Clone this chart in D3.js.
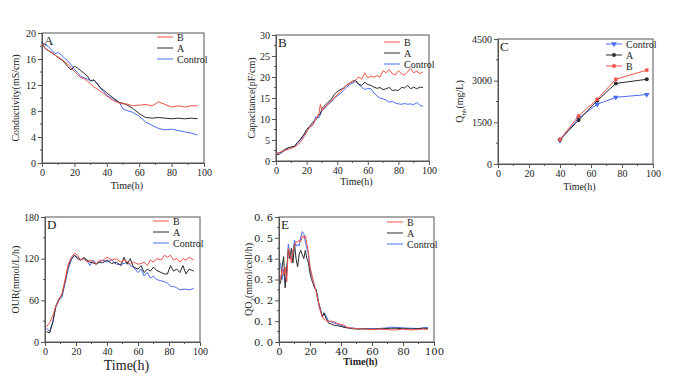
<!DOCTYPE html>
<html>
<head>
<meta charset="utf-8">
<script src="https://cdn.jsdelivr.net/npm/d3@7"></script>
<style>
  body { margin: 0; background: #fff; }
  svg text { font-family: "Liberation Serif", "DejaVu Serif", serif; fill: #222; }
</style>
</head>
<body>
<div id="graphContainer"></div>
<script>
// ---- data ----
const seriesNames = ["B", "A", "Control"];
const legendOrderC = ["Control", "A", "B"];

// A: conductivity (mS/cm)
const condTime    = [0, 2, 4, 6, 8, 10, 12, 14, 16, 18, 20, 22, 24, 26, 28, 30, 32, 34, 36, 38, 40, 44, 48, 50, 52, 56, 60, 64, 68, 72, 76, 80, 84, 88, 92, 96];
const condControl = [18.6, 18.2, 17.9, 17.4, 16.8, 17.0, 16.6, 16.1, 15.7, 15.1, 14.4, 13.9, 13.3, 13.1, 12.9, 12.7, 12.7, 12.3, 11.5, 11.0, 10.4, 9.8, 9.2, 8.3, 8.1, 7.8, 7.2, 6.3, 5.8, 5.3, 5.1, 5.2, 5.0, 4.8, 4.6, 4.3];
const condA       = [18.6, 17.6, 17.3, 17.0, 16.6, 16.2, 15.9, 15.4, 14.8, 14.3, 14.9, 14.6, 14.2, 13.8, 13.4, 12.6, 12.8, 12.2, 11.6, 11.2, 10.8, 10.0, 9.3, 9.2, 9.0, 8.4, 7.6, 7.0, 6.9, 7.0, 6.9, 6.8, 6.9, 6.8, 6.9, 6.8];
const condB       = [18.3, 17.6, 17.3, 16.9, 16.6, 16.3, 16.0, 15.6, 15.2, 14.6, 14.1, 13.6, 13.1, 13.0, 12.6, 12.2, 11.7, 11.4, 11.0, 10.7, 10.3, 9.6, 9.2, 9.1, 9.1, 8.8, 8.9, 9.0, 8.8, 9.4, 9.0, 8.6, 8.8, 8.6, 8.8, 8.8];

// B: capacitance (pF/cm)
const capTime    = [0, 2, 4, 6, 8, 10, 12, 14, 16, 18, 20, 22, 24, 26, 28, 29, 30, 32, 34, 36, 38, 40, 42, 44, 46, 48, 50, 52, 54, 56, 58, 60, 62, 64, 66, 68, 70, 72, 74, 76, 78, 80, 82, 84, 86, 88, 90, 92, 94, 96];
const capControl = [1.8, 1.9, 2.0, 2.6, 3.2, 3.0, 3.5, 4.2, 5.0, 6.0, 7.0, 8.0, 8.6, 10.5, 10.2, 11.0, 12.0, 12.6, 13.5, 14.0, 15.0, 15.5, 16.0, 16.8, 17.5, 18.2, 18.5, 19.0, 18.2, 17.6, 17.0, 17.3, 17.2, 16.2, 15.5, 15.0, 14.8, 14.5, 14.0, 14.2, 13.8, 13.6, 13.5, 13.7, 13.5, 13.6, 13.4, 13.9, 13.3, 13.0];
const capA       = [1.7, 1.5, 2.3, 2.8, 3.1, 3.4, 3.5, 4.4, 5.2, 6.2, 7.5, 8.3, 9.2, 9.8, 11.0, 11.2, 12.5, 13.2, 14.0, 14.6, 15.8, 16.5, 17.0, 17.3, 18.0, 18.5, 19.0, 19.2, 18.3, 18.0, 18.8, 18.2, 18.0, 17.6, 17.3, 17.5, 17.0, 17.2, 17.5, 16.8, 16.9, 16.8, 17.5, 17.4, 18.0, 17.2, 17.6, 17.2, 17.6, 17.5];
const capB       = [1.8, 2.0, 2.3, 2.5, 2.8, 3.1, 3.3, 3.8, 4.5, 5.6, 6.8, 8.2, 8.5, 10.0, 11.2, 13.5, 12.0, 13.0, 13.5, 14.2, 15.0, 15.8, 16.5, 17.4, 18.0, 18.6, 18.8, 19.2, 20.0, 19.5, 21.0, 19.8, 20.2, 20.0, 20.3, 20.0, 21.5, 21.0, 21.8, 20.8, 20.5, 21.5, 20.8, 20.5, 21.2, 22.0, 21.0, 21.4, 20.8, 21.2];

// C: titre (mg/L)
const titreTime    = [40, 52, 64, 76, 96];
const titreControl = [850, 1650, 2150, 2400, 2500];
const titreA       = [880, 1580, 2280, 2900, 3050];
const titreB       = [880, 1730, 2330, 3050, 3380];

// D: OUR (mmol/L/h)
const ourTime    = [1, 3, 5, 7, 9, 11, 13, 15, 17, 19, 21, 23, 25, 27, 29, 31, 33, 35, 37, 40, 43, 46, 49, 51, 53, 55, 57, 60, 62, 64, 66, 68, 70, 72, 75, 77, 79, 81, 83, 85, 87, 89, 91, 93, 96];
const ourControl = [20, 15, 30, 50, 60, 65, 85, 105, 118, 125, 122, 118, 120, 118, 110, 118, 113, 115, 118, 115, 118, 112, 112, 113, 115, 110, 108, 100, 105, 95, 100, 92, 95, 90, 88, 87, 85, 80, 80, 78, 75, 76, 76, 75, 77];
const ourA       = [15, 13, 28, 52, 62, 68, 88, 110, 120, 125, 120, 118, 122, 118, 115, 114, 112, 115, 114, 118, 113, 115, 110, 122, 112, 120, 108, 105, 110, 100, 105, 102, 108, 103, 100, 98, 98, 110, 102, 105, 100, 110, 98, 105, 102];
const ourB       = [22, 28, 38, 52, 60, 70, 90, 112, 122, 128, 125, 118, 120, 115, 118, 116, 112, 118, 117, 122, 118, 120, 115, 118, 116, 112, 115, 112, 113, 115, 110, 118, 115, 120, 118, 125, 122, 125, 118, 120, 115, 120, 118, 122, 118];

// E: QO2 (mmol/cell/h)
const qoTime    = [1, 2, 3, 4, 5, 6, 7, 8, 9, 10, 11, 12, 13, 14, 15, 16, 17, 18, 19, 20, 21, 22, 23, 24, 25, 26, 27, 28, 29, 30, 32, 34, 36, 38, 40, 42, 44, 46, 50, 55, 60, 65, 70, 72, 75, 80, 85, 90, 93, 96];
const qoControl = [0.38, 0.30, 0.35, 0.28, 0.33, 0.47, 0.42, 0.40, 0.43, 0.49, 0.46, 0.47, 0.46, 0.50, 0.53, 0.52, 0.48, 0.45, 0.42, 0.35, 0.32, 0.30, 0.26, 0.25, 0.22, 0.16, 0.15, 0.12, 0.14, 0.13, 0.10, 0.095, 0.09, 0.085, 0.08, 0.075, 0.07, 0.068, 0.065, 0.065, 0.063, 0.065, 0.068, 0.072, 0.07, 0.068, 0.066, 0.065, 0.068, 0.07];
const qoA       = [0.28, 0.36, 0.41, 0.26, 0.35, 0.44, 0.40, 0.45, 0.38, 0.47, 0.40, 0.36, 0.42, 0.44, 0.42, 0.40, 0.44, 0.40, 0.38, 0.33, 0.30, 0.28, 0.26, 0.25, 0.20, 0.18, 0.15, 0.12, 0.14, 0.12, 0.09, 0.085, 0.08, 0.078, 0.075, 0.07, 0.068, 0.065, 0.062, 0.063, 0.062, 0.063, 0.065, 0.066, 0.066, 0.064, 0.063, 0.064, 0.066, 0.065];
const qoB       = [0.30, 0.35, 0.32, 0.36, 0.29, 0.45, 0.42, 0.38, 0.44, 0.46, 0.48, 0.48, 0.49, 0.48, 0.51, 0.50, 0.51, 0.47, 0.43, 0.36, 0.33, 0.29, 0.27, 0.24, 0.21, 0.17, 0.14, 0.12, 0.11, 0.105, 0.10, 0.10, 0.095, 0.088, 0.085, 0.08, 0.07, 0.068, 0.064, 0.062, 0.06, 0.062, 0.06, 0.058, 0.058, 0.062, 0.058, 0.06, 0.062, 0.06];

const colors = { B: "#f0554a", A: "#2a2a2a", Control: "#4a6cf2" };

const svg = d3.select("#graphContainer").append("svg")
    .attr("width", 685)
    .attr("height", 386);

function drawPanel(p) {
    const g = svg.append("g");
    const x = d3.scaleLinear().domain([0, 100]).range([p.left, p.right]);
    const y = d3.scaleLinear().domain(p.yDomain).range([p.bottom, p.top]);

    // frame
    g.append("rect")
        .attr("x", p.left).attr("y", p.top)
        .attr("width", p.right - p.left).attr("height", p.bottom - p.top)
        .attr("fill", "none").attr("stroke", "#555").attr("stroke-width", 1);

    // minor ticks
    const xMinor = d3.range(10, 100, 20);
    g.selectAll(".xminor").data(xMinor).enter().append("line")
        .attr("x1", d => x(d)).attr("x2", d => x(d))
        .attr("y1", p.bottom).attr("y2", p.bottom + 2)
        .attr("stroke", "#555");
    const ySteps = p.yTicks;
    const yMinor = ySteps.slice(0, -1).map((d, i) => (d + ySteps[i + 1]) / 2);
    g.selectAll(".yminor").data(yMinor).enter().append("line")
        .attr("x1", p.left - 2).attr("x2", p.left)
        .attr("y1", d => y(d)).attr("y2", d => y(d))
        .attr("stroke", "#555");

    const xAxis = g.append("g")
        .attr("transform", `translate(0,${p.bottom})`)
        .call(d3.axisBottom(x).tickValues([0, 20, 40, 60, 80, 100]).tickSize(4).tickPadding(2));
    const yAxis = g.append("g")
        .attr("transform", `translate(${p.left},0)`)
        .call(d3.axisLeft(y).tickValues(p.yTicks).tickSize(4).tickPadding(2).tickFormat(p.yFormat));
    [xAxis, yAxis].forEach(a => {
        a.select(".domain").attr("stroke", "#555");
        a.selectAll(".tick line").attr("stroke", "#555");
        a.selectAll("text")
            .style("font-family", p.tickFont || "Liberation Serif")
            .style("font-size", "10px").attr("fill", "#333");
    });

    // series
    const line = d3.line().x(d => x(d[0])).y(d => y(d[1]));
    p.series.forEach(s => {
        const pts = p.time.map((t, i) => [t, s.values[i]]);
        g.append("path").datum(pts)
            .attr("d", line)
            .attr("fill", "none")
            .attr("stroke", colors[s.name])
            .attr("stroke-width", 1);
        if (s.marker) {
            const sym = d3.symbol().type(s.marker).size(s.marker === d3.symbolTriangle ? 14 : 12);
            g.selectAll(null).data(pts).enter().append("path")
                .attr("d", sym)
                .attr("transform", d => `translate(${x(d[0])},${y(d[1])})${s.marker === d3.symbolTriangle ? " rotate(180)" : ""}`)
                .attr("fill", colors[s.name]);
        }
    });

    // panel letter
    g.append("text")
        .attr("x", p.left + 2).attr("y", p.top + 12)
        .style("font-size", "13px")
        .text(p.letter);

    // legend
    const lg = g.append("g").attr("transform", `translate(${p.legX},${p.legY})`);
    p.legend.forEach((name, i) => {
        const s = p.series.find(d => d.name === name);
        lg.append("line")
            .attr("x1", 0).attr("x2", 16)
            .attr("y1", i * 11).attr("y2", i * 11)
            .attr("stroke", colors[name]).attr("stroke-width", 1);
        if (s.marker) {
            lg.append("path")
                .attr("d", d3.symbol().type(s.marker).size(s.marker === d3.symbolTriangle ? 14 : 12))
                .attr("transform", `translate(8,${i * 11})${s.marker === d3.symbolTriangle ? " rotate(180)" : ""}`)
                .attr("fill", colors[name]);
        }
        lg.append("text")
            .attr("x", 20).attr("y", i * 11 + 3.5)
            .style("font-size", "10px")
            .text(name);
    });

    // axis titles
    g.append("text")
        .attr("x", (p.left + p.right) / 2 + 4)
        .attr("y", p.xLabelY)
        .attr("text-anchor", "middle")
        .style("font-size", p.xLabelSize || "10px")
        .style("font-weight", p.xLabelWeight || "normal")
        .text("Time(h)");
    const yl = g.append("text")
        .attr("transform", `translate(${p.yLabelX},${(p.top + p.bottom) / 2}) rotate(-90)`)
        .attr("text-anchor", "middle")
        .style("font-size", "10px");
    p.yLabel(yl);
}

drawPanel({
    letter: "A", left: 42, right: 204, top: 33, bottom: 163,
    yDomain: [0, 20], yTicks: [0, 4, 8, 12, 16, 20], yFormat: d3.format("d"),
    time: condTime,
    series: [{ name: "Control", values: condControl }, { name: "A", values: condA }, { name: "B", values: condB }],
    legend: seriesNames, legX: 157, legY: 37,
    xLabelY: 189, yLabelX: 19,
    yLabel: t => t.text("Conductivity(mS/cm)")
});

drawPanel({
    letter: "B", left: 276, right: 429, top: 35, bottom: 161,
    yDomain: [0, 30], yTicks: [0, 5, 10, 15, 20, 25, 30], yFormat: d3.format("d"),
    time: capTime,
    series: [{ name: "Control", values: capControl }, { name: "A", values: capA }, { name: "B", values: capB }],
    legend: seriesNames, legX: 384, legY: 42,
    xLabelY: 185, yLabelX: 255,
    yLabel: t => t.text("Capacitance(pF/cm)")
});

drawPanel({
    letter: "C", left: 498, right: 653, top: 39, bottom: 164,
    yDomain: [0, 4500], yTicks: [0, 1500, 3000, 4500], yFormat: d3.format("d"),
    time: titreTime,
    series: [
        { name: "Control", values: titreControl, marker: d3.symbolTriangle },
        { name: "A", values: titreA, marker: d3.symbolCircle },
        { name: "B", values: titreB, marker: d3.symbolSquare }
    ],
    legend: legendOrderC, legX: 606, legY: 44,
    xLabelY: 190, yLabelX: 463,
    yLabel: t => {
        t.append("tspan").text("Q");
        t.append("tspan").attr("dy", 3).style("font-size", "7px").text("hb");
        t.append("tspan").attr("dy", -3).text("(mg/L)");
    }
});

drawPanel({
    letter: "D", left: 45, right: 200, top: 217, bottom: 342,
    yDomain: [0, 180], yTicks: [0, 60, 120, 180], yFormat: d3.format("d"),
    time: ourTime,
    series: [{ name: "Control", values: ourControl }, { name: "A", values: ourA }, { name: "B", values: ourB }],
    legend: seriesNames, legX: 153, legY: 221,
    xLabelY: 370, xLabelSize: "14px", yLabelX: 19,
    yLabel: t => t.text("OUR(mmol/L/h)")
});

drawPanel({
    letter: "E", left: 279, right: 434, top: 217, bottom: 342,
    yDomain: [0, 0.6], yTicks: [0, 0.1, 0.2, 0.3, 0.4, 0.5, 0.6],
    yFormat: d => d3.format(".1f")(d).replace(".", ". "),
    tickFont: "DejaVu Serif",
    time: qoTime,
    series: [{ name: "Control", values: qoControl }, { name: "A", values: qoA }, { name: "B", values: qoB }],
    legend: seriesNames, legX: 387, legY: 222,
    xLabelY: 365, xLabelWeight: "bold", yLabelX: 252,
    yLabel: t => {
        t.append("tspan").text("QO");
        t.append("tspan").attr("dy", 3).style("font-size", "7px").text("2");
        t.append("tspan").attr("dy", -3).text("(mmol/cell/h)");
    }
});
</script>
</body>
</html>
